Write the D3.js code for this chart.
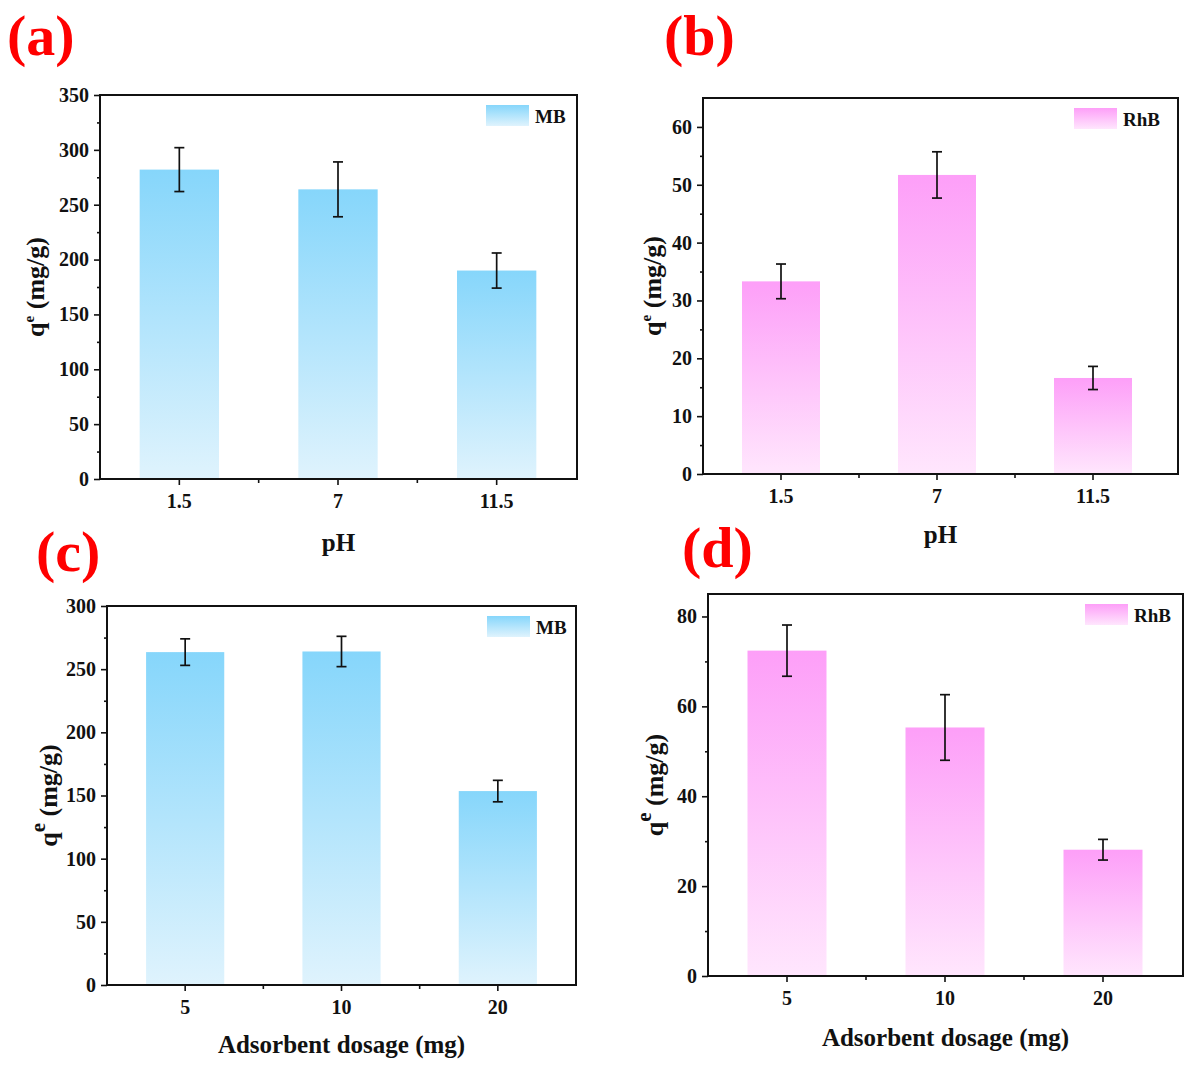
<!DOCTYPE html>
<html><head><meta charset="utf-8">
<script src="https://cdn.jsdelivr.net/npm/d3@7"></script>
<style>
body{margin:0;background:#fff;}
svg{display:block;font-family:"Liberation Serif","Times New Roman",serif;font-weight:bold;}
</style></head>
<body><svg id="c" width="1194" height="1069"></svg>
<script>
// ---- data ----
const phLabels = ["1.5", "7", "11.5"];
const dosageLabels = ["5", "10", "20"];
const mbPh = [282, 264, 190];
const mbPhErr = [20, 25, 16];
const rhbPh = [33.3, 51.7, 16.6];
const rhbPhErr = [3.0, 4.0, 2.0];
const mbDose = [263.5, 264, 153.5];
const mbDoseErr = [10.5, 12, 8.5];
const rhbDose = [72.4, 55.3, 28.1];
const rhbDoseErr = [5.7, 7.3, 2.3];
const yTicksA = [0, 50, 100, 150, 200, 250, 300, 350];
const yTicksB = [0, 10, 20, 30, 40, 50, 60];
const yTicksC = [0, 50, 100, 150, 200, 250, 300];
const yTicksD = [0, 20, 40, 60, 80];

const svg = d3.select("#c");
const defs = svg.append("defs");
function grad(id, top, bottom){
  const g = defs.append("linearGradient").attr("id", id).attr("x1",0).attr("y1",0).attr("x2",0).attr("y2",1);
  g.append("stop").attr("offset","0%").attr("stop-color", top);
  g.append("stop").attr("offset","100%").attr("stop-color", bottom);
}
grad("gBlue", "#86d6fb", "#dff3fd");
grad("gPink", "#fd9ff8", "#ffe6fd");

const panels = [
  {label:"(a)", lx:7, ly:55, left:100, top:95, right:577, bandEnd:576, bottom:479, cats:phLabels, vals:mbPh, errs:mbPhErr,
   ymax:350, ticks:yTicksA, minorStep:25, fill:"url(#gBlue)", legend:"MB", legX:486, xTitle:"pH", xTitleY:551,
   yTitleX:44, supSize:15, supShift:10},
  {label:"(b)", lx:664, ly:55, left:703, top:98, right:1178, bandEnd:1171, bottom:474, cats:phLabels, vals:rhbPh, errs:rhbPhErr,
   ymax:65, ticks:yTicksB, minorStep:5, fill:"url(#gPink)", legend:"RhB", legX:1074, xTitle:"pH", xTitleY:543,
   yTitleX:661, supSize:15, supShift:10},
  {label:"(c)", lx:36, ly:571, left:107, top:606, right:576, bandEnd:576, bottom:985, cats:dosageLabels, vals:mbDose, errs:mbDoseErr,
   ymax:300, ticks:yTicksC, minorStep:25, fill:"url(#gBlue)", legend:"MB", legX:487, xTitle:"Adsorbent dosage (mg)", xTitleY:1053,
   yTitleX:57, supSize:21, supShift:12},
  {label:"(d)", lx:682, ly:567, left:708, top:594, right:1183, bandEnd:1182, bottom:976, cats:dosageLabels, vals:rhbDose, errs:rhbDoseErr,
   ymax:85, ticks:yTicksD, minorStep:10, fill:"url(#gPink)", legend:"RhB", legX:1085, xTitle:"Adsorbent dosage (mg)", xTitleY:1046,
   yTitleX:663, supSize:21, supShift:12}
];

panels.forEach(p => {
  const g = svg.append("g");
  const x = d3.scaleBand().domain(p.cats).range([p.left, p.bandEnd]).paddingInner(0).paddingOuter(0);
  const y = d3.scaleLinear().domain([0, p.ymax]).range([p.bottom, p.top]);
  const bw = x.bandwidth() * 0.5;

  // bars
  g.selectAll("rect.bar").data(p.vals).enter().append("rect")
    .attr("x", (d,i) => x(p.cats[i]) + x.bandwidth()/2 - bw/2)
    .attr("y", d => y(d))
    .attr("width", bw)
    .attr("height", d => y(0) - y(d))
    .attr("fill", p.fill);

  // error bars
  const eg = g.append("g").attr("stroke", "#111").attr("stroke-width", 1.7);
  p.vals.forEach((v,i) => {
    const cx = x(p.cats[i]) + x.bandwidth()/2;
    const hi = y(v + p.errs[i]), lo = y(v - p.errs[i]);
    eg.append("line").attr("x1",cx).attr("x2",cx).attr("y1",hi).attr("y2",lo);
    eg.append("line").attr("x1",cx-5).attr("x2",cx+5).attr("y1",hi).attr("y2",hi);
    eg.append("line").attr("x1",cx-5).attr("x2",cx+5).attr("y1",lo).attr("y2",lo);
  });

  // y axis
  const yAxis = d3.axisLeft(y).tickValues(p.ticks).tickSize(6).tickPadding(5).tickFormat(d3.format("d"));
  const ya = g.append("g").attr("transform", `translate(${p.left},0)`).call(yAxis);
  const minors = d3.range(p.minorStep, p.ymax, p.minorStep*2);
  const yMinor = d3.axisLeft(y).tickValues(minors).tickSize(3).tickFormat("");
  const ym = g.append("g").attr("transform", `translate(${p.left},0)`).call(yMinor);

  // x axis
  const xAxis = d3.axisBottom(x).tickSize(6).tickPadding(9);
  const xa = g.append("g").attr("transform", `translate(0,${p.bottom})`).call(xAxis);
  const xm = g.append("g").attr("transform", `translate(0,${p.bottom})`);
  [1,2].forEach(k => {
    const xx = p.left + k * x.bandwidth();
    xm.append("line").attr("x1",xx).attr("x2",xx).attr("y1",0).attr("y2",4).attr("stroke","#111").attr("stroke-width",1.6);
  });

  [ya, ym, xa].forEach(a => {
    a.select(".domain").remove();
    a.selectAll(".tick line").attr("stroke", "#111").attr("stroke-width", 1.6);
    a.selectAll(".tick text").attr("fill", "#111").attr("font-size", 20).attr("font-weight", "bold")
      .attr("font-family", '"Liberation Serif","Times New Roman",serif');
  });

  // frame
  g.append("rect").attr("x", p.left).attr("y", p.top).attr("width", p.right - p.left).attr("height", p.bottom - p.top)
    .attr("fill", "none").attr("stroke", "#111").attr("stroke-width", 2);

  // legend
  g.append("rect").attr("x", p.legX).attr("y", p.top + 10).attr("width", 43).attr("height", 21).attr("fill", p.fill);
  g.append("text").attr("x", p.legX + 49).attr("y", p.top + 28).attr("font-size", 19).attr("fill", "#111").text(p.legend);

  // x title
  g.append("text").attr("x", (p.left + p.right)/2).attr("y", p.xTitleY).attr("text-anchor", "middle")
    .attr("font-size", 25).attr("fill", "#111").text(p.xTitle);

  // y title
  const cy = (p.top + p.bottom)/2;
  const yt = g.append("text").attr("transform", `translate(${p.yTitleX},${cy}) rotate(-90)`)
    .attr("text-anchor", "middle").attr("font-size", 26).attr("fill", "#111");
  yt.append("tspan").text("q");
  yt.append("tspan").attr("font-size", p.supSize).attr("dy", -p.supShift).text("e");
  yt.append("tspan").attr("dy", p.supShift).text(" (mg/g)");

  // panel label
  svg.append("text").attr("x", p.lx).attr("y", p.ly).attr("font-size", 58).attr("fill", "#ff0000").text(p.label);
});
</script>
</body></html>
